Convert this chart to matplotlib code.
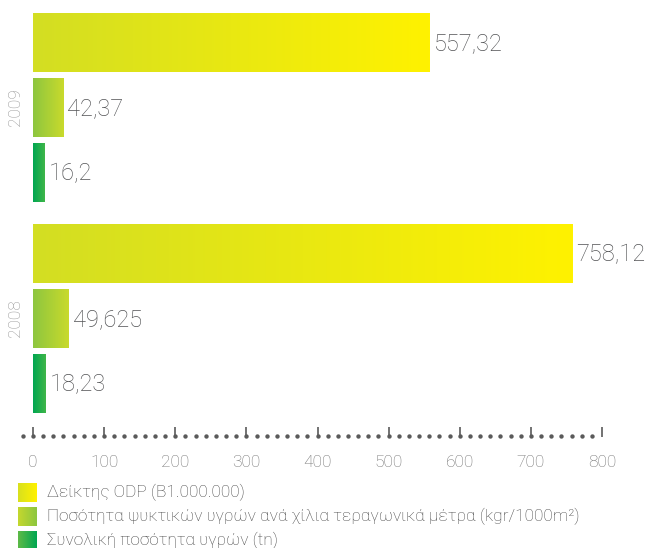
import numpy as np
import matplotlib
matplotlib.use("Agg")
import matplotlib.pyplot as plt
from matplotlib.colors import LinearSegmentedColormap

plt.rcParams['font.family'] = ['Roboto', 'Noto Sans', 'DejaVu Sans']

# ---- data -------------------------------------------------------------
years = ["2009", "2008"]
series_labels = [
    "Δείκτης ODP (Β1.000.000)",
    "Ποσότητα ψυκτικών υγρών ανά χίλια τεραγωνικά μέτρα (kgr/1000m²)",
    "Συνολική ποσότητα υγρών (tn)",
]
odp_index = [557.32, 758.12]
fluid_per_area = [42.37, 49.625]
fluid_total = [16.2, 18.23]
x_ticks = [0, 100, 200, 300, 400, 500, 600, 700, 800]

series_values = [odp_index, fluid_per_area, fluid_total]
# gradient colours per series (left -> right)
bar_gradients = [("#d3de23", "#fff200"), ("#8dc63f", "#c9da2c"), ("#00a651", "#40b649")]
key_gradients = [("#d9e01e", "#fff200"), ("#c4d82e", "#8dc63f"), ("#5dba47", "#00a651")]

# ---- figure -----------------------------------------------------------
W, H = 646, 548
fig = plt.figure(figsize=(W / 100, H / 100), dpi=100)
fig.patch.set_facecolor("white")

ax = fig.add_axes([33 / W, (H - 437) / H, (602 - 33) / W, (437 - 5) / H])

group_centre = [107.5, 318.5]
offsets = [-65, 0, 65]
bar_h = 59
LIGHT = "light"


def gradient_fill(axis, patch, c0, c1):
    cmap = LinearSegmentedColormap.from_list("g", [c0, c1])
    x0, y0 = patch.get_x(), patch.get_y()
    w, h = patch.get_width(), patch.get_height()
    grad = np.linspace(0, 1, 256).reshape(1, -1)
    im = axis.imshow(grad, cmap=cmap, extent=(x0, x0 + w, y0 + h, y0),
                     aspect="auto", interpolation="bilinear",
                     zorder=patch.get_zorder() + 0.1)
    im.set_clip_path(patch)


for s, vals in enumerate(series_values):
    ypos = [g + offsets[s] for g in group_centre]
    bars = ax.barh(ypos, vals, height=bar_h, color=bar_gradients[s][0],
                   edgecolor="none", zorder=2)
    for b, v, y in zip(bars, vals, ypos):
        gradient_fill(ax, b, *bar_gradients[s])
        ax.text(v + 6, y + 1, str(v).replace(".", ","), va="center", ha="left",
                fontsize=17, color="#525355", fontweight=LIGHT)

for yr, gc in zip(years, group_centre):
    ax.text(-25, gc, yr, rotation=90, ha="center", va="center",
            fontsize=12.5, color="#939393", clip_on=False, fontweight=LIGHT)

ax.set_xlim(0, 800)
ax.set_ylim(437, 5)
for sp in ax.spines.values():
    sp.set_visible(False)
ax.set_yticks([])
ax.set_xticks(x_ticks)
ax.set_xticklabels([str(t) for t in x_ticks])
ax.tick_params(axis="x", direction="in", length=7, width=1.2, color="#5a5a5a",
               pad=13, labelsize=12.5, labelcolor="#707070")
for lbl in ax.get_xticklabels():
    lbl.set_fontweight(LIGHT)

# dotted baseline
dots_x = np.arange(-100 / 7, 790, 100 / 7)
ax.scatter(dots_x, np.full_like(dots_x, 435.5), s=10, color="#5a5a5a",
           clip_on=False, zorder=3, linewidths=0)

# ---- key --------------------------------------------------------------
lax = fig.add_axes([0, 0, 1, 1], zorder=-1)
lax.set_xlim(0, W)
lax.set_ylim(H, 0)
lax.axis("off")
for i, (lab, (c0, c1)) in enumerate(zip(series_labels, key_gradients)):
    top = 483 + 24 * i
    cmap = LinearSegmentedColormap.from_list("k", [c0, c1])
    lax.imshow(np.linspace(0, 1, 64).reshape(1, -1), cmap=cmap,
               extent=(18, 37, top + 19, top), aspect="auto", interpolation="bilinear")
    lax.text(47, top + 9.5, lab, va="center", ha="left", fontsize=12.4,
             color="#474747", fontweight=LIGHT)
lax.set_xlim(0, W)
lax.set_ylim(H, 0)

fig.savefig("out.png", dpi=100, facecolor="white")
